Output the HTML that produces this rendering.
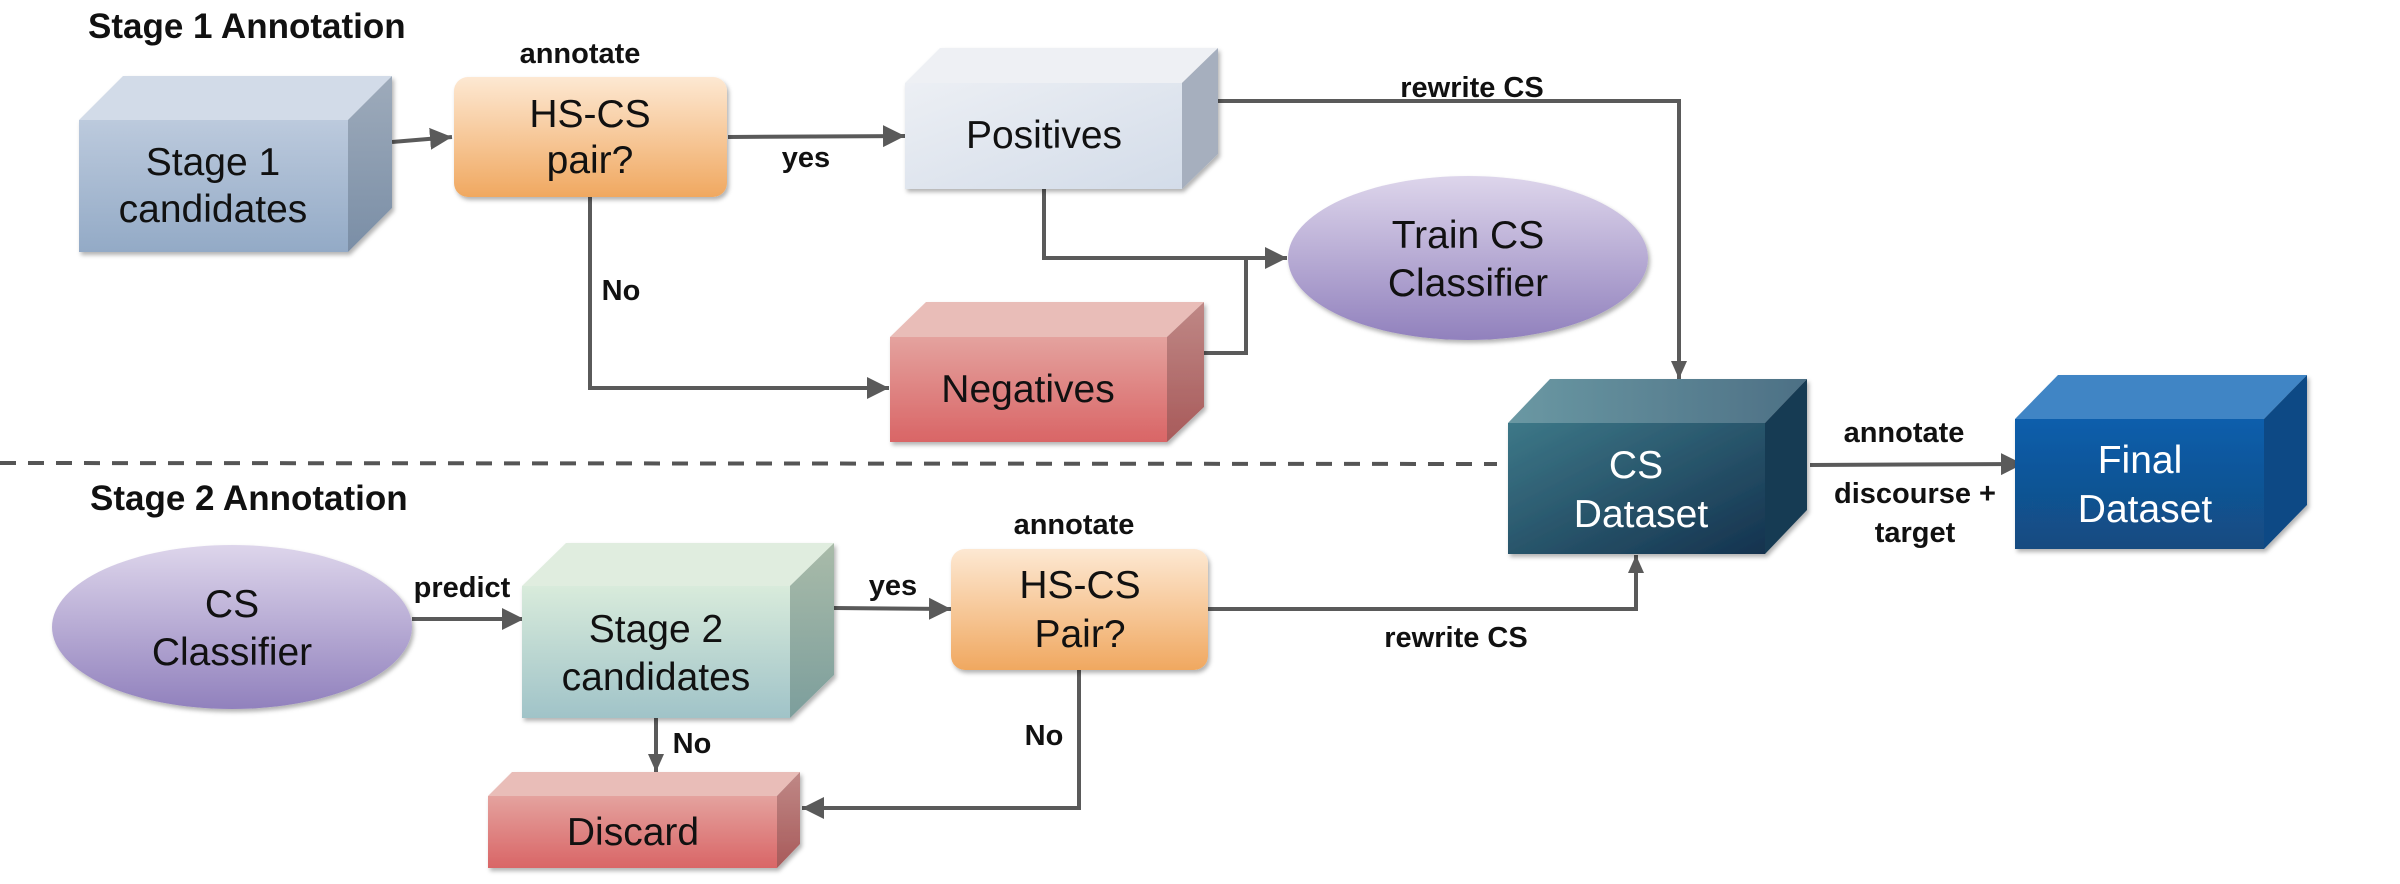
<!DOCTYPE html>
<html><head><meta charset="utf-8"><style>
html,body{margin:0;padding:0;background:#fff;}
svg{display:block;}
text{font-family:"Liberation Sans",Arial,sans-serif;}
.n{font-size:39px;text-anchor:middle;fill:#111;}
.w{font-size:39px;text-anchor:middle;fill:#fff;}
.l{font-size:29px;font-weight:bold;fill:#111;text-anchor:middle;}
.h{font-size:35px;font-weight:bold;fill:#111;}
.c{stroke:#5a5a5a;stroke-width:4;fill:none;}
</style></head><body>
<svg width="2400" height="884" viewBox="0 0 2400 884" xmlns="http://www.w3.org/2000/svg">
<defs>
<marker id="a" markerUnits="userSpaceOnUse" markerWidth="24" markerHeight="24" refX="22" refY="12" orient="auto"><path d="M0,1 L22,12 L0,23 Z" fill="#5a5a5a"/></marker>
<marker id="b" markerUnits="userSpaceOnUse" markerWidth="20" markerHeight="20" refX="18" refY="10" orient="auto"><path d="M0,2 L18,10 L0,18 Z" fill="#5a5a5a"/></marker>
<linearGradient id="s1f" x1="0" y1="0" x2="0" y2="1"><stop offset="0" stop-color="#bccadd"/><stop offset="1" stop-color="#93aac6"/></linearGradient>
<linearGradient id="s1s" x1="0" y1="0" x2="0" y2="1"><stop offset="0" stop-color="#9eabbb"/><stop offset="1" stop-color="#7a8ea6"/></linearGradient>
<linearGradient id="pf" x1="0" y1="0" x2="1" y2="1"><stop offset="0" stop-color="#eceff4"/><stop offset="1" stop-color="#d3dce9"/></linearGradient>
<linearGradient id="nf" x1="0" y1="0" x2="0" y2="1"><stop offset="0" stop-color="#e4a29e"/><stop offset="1" stop-color="#d96566"/></linearGradient>
<linearGradient id="ns" x1="0" y1="0" x2="0" y2="1"><stop offset="0" stop-color="#bf8886"/><stop offset="1" stop-color="#a85a5a"/></linearGradient>
<linearGradient id="of" x1="0" y1="0" x2="0" y2="1"><stop offset="0" stop-color="#fde8d2"/><stop offset="1" stop-color="#f0a860"/></linearGradient>
<linearGradient id="ef" x1="0" y1="0" x2="0" y2="1"><stop offset="0" stop-color="#ddd5eb"/><stop offset="1" stop-color="#9181bd"/></linearGradient>
<linearGradient id="gf" x1="0" y1="0" x2="0" y2="1"><stop offset="0" stop-color="#d8ebdb"/><stop offset="1" stop-color="#a0c3c8"/></linearGradient>
<linearGradient id="gs" x1="0" y1="0" x2="0" y2="1"><stop offset="0" stop-color="#a9bba9"/><stop offset="1" stop-color="#7c9e9c"/></linearGradient>
<linearGradient id="cf" x1="0" y1="0" x2="1" y2="1"><stop offset="0" stop-color="#3d7888"/><stop offset="1" stop-color="#14324e"/></linearGradient>
<linearGradient id="ct" x1="0" y1="0" x2="1" y2="0"><stop offset="0" stop-color="#6a98a3"/><stop offset="1" stop-color="#4d7085"/></linearGradient>
<linearGradient id="ff" x1="0" y1="0" x2="0" y2="1"><stop offset="0" stop-color="#0e5eac"/><stop offset="1" stop-color="#134b80"/></linearGradient>
<filter id="sh" x="-10%" y="-10%" width="130%" height="130%"><feDropShadow dx="2" dy="3" stdDeviation="2" flood-opacity="0.3"/></filter>
</defs>

<text class="h" x="88" y="38">Stage 1 Annotation</text>
<text class="h" x="90" y="510">Stage 2 Annotation</text>

<!-- dashed divider -->
<line x1="0" y1="463" x2="1497" y2="464" stroke="#555" stroke-width="4" stroke-dasharray="16,12"/>

<!-- connectors stage1 -->
<line class="c" x1="392" y1="142" x2="452" y2="137" marker-end="url(#a)"/>
<line class="c" x1="728" y1="137" x2="905" y2="136" marker-end="url(#a)"/>
<polyline class="c" points="590,197 590,388 889,388" marker-end="url(#a)"/>
<polyline class="c" points="1044,189 1044,258 1287,258" marker-end="url(#a)"/>
<polyline class="c" points="1204,353 1246,353 1246,258"/>
<polyline class="c" points="1215,101 1679,101 1679,379" marker-end="url(#b)"/>

<!-- connectors stage2 -->
<line class="c" x1="412" y1="619" x2="524" y2="619" marker-end="url(#a)"/>
<line class="c" x1="834" y1="608" x2="951" y2="609" marker-end="url(#a)"/>
<line class="c" x1="656" y1="718" x2="656" y2="772" marker-end="url(#b)"/>
<polyline class="c" points="1079,670 1079,808 802,808" marker-end="url(#a)"/>
<polyline class="c" points="1208,609 1636,609 1636,555" marker-end="url(#b)"/>
<line class="c" x1="1810" y1="465" x2="2023" y2="464" marker-end="url(#a)"/>

<!-- Stage 1 candidates -->
<g filter="url(#sh)">
<polygon points="79,120 123,76 392,76 348,120" fill="#d2dbe8"/>
<polygon points="348,120 392,76 392,208 348,252" fill="url(#s1s)"/>
<rect x="79" y="120" width="269" height="132" fill="url(#s1f)"/>
</g>
<text class="n" x="213" y="175">Stage 1</text>
<text class="n" x="213" y="222">candidates</text>

<!-- HS-CS pair -->
<rect x="454" y="77" width="273" height="120" rx="14" fill="url(#of)" filter="url(#sh)"/>
<text class="l" x="580" y="63">annotate</text>
<text class="n" x="590" y="127">HS-CS</text>
<text class="n" x="590" y="173">pair?</text>
<text class="l" x="806" y="167">yes</text>
<text class="l" x="621" y="300">No</text>

<!-- Positives -->
<g filter="url(#sh)">
<polygon points="905,83 940,48 1218,48 1182,83" fill="#eef0f4"/>
<polygon points="1182,83 1218,48 1218,154 1182,189" fill="#a6afbe"/>
<rect x="905" y="83" width="277" height="106" fill="url(#pf)"/>
</g>
<text class="n" x="1044" y="148">Positives</text>

<!-- Negatives -->
<g filter="url(#sh)">
<polygon points="890,337 926,302 1204,302 1167,337" fill="#e9bdb8"/>
<polygon points="1167,337 1204,302 1204,407 1167,442" fill="url(#ns)"/>
<rect x="890" y="337" width="277" height="105" fill="url(#nf)"/>
</g>
<text class="n" x="1028" y="402">Negatives</text>

<!-- Train CS Classifier -->
<ellipse cx="1468" cy="258" rx="180" ry="82" fill="url(#ef)" filter="url(#sh)"/>
<text class="n" x="1468" y="248">Train CS</text>
<text class="n" x="1468" y="296">Classifier</text>
<text class="l" x="1472" y="97">rewrite CS</text>

<!-- CS Dataset -->
<g filter="url(#sh)">
<polygon points="1508,423 1550,379 1807,379 1765,423" fill="url(#ct)"/>
<polygon points="1765,423 1807,379 1807,510 1765,554" fill="#193a52"/>
<rect x="1508" y="423" width="257" height="131" fill="url(#cf)"/>
</g>
<text class="w" x="1636" y="478">CS</text>
<text class="w" x="1641" y="527">Dataset</text>

<text class="l" x="1904" y="442">annotate</text>
<text class="l" x="1915" y="503">discourse +</text>
<text class="l" x="1915" y="542">target</text>

<!-- Final Dataset -->
<g filter="url(#sh)">
<polygon points="2015,419 2058,375 2307,375 2264,419" fill="#3f85c5"/>
<polygon points="2264,419 2307,375 2307,505 2264,549" fill="#0f4a85"/>
<rect x="2015" y="419" width="249" height="130" fill="url(#ff)"/>
</g>
<text class="w" x="2140" y="473">Final</text>
<text class="w" x="2145" y="522">Dataset</text>

<!-- CS Classifier -->
<ellipse cx="232" cy="627" rx="180" ry="82" fill="url(#ef)" filter="url(#sh)"/>
<text class="n" x="232" y="617">CS</text>
<text class="n" x="232" y="665">Classifier</text>
<text class="l" x="462" y="597">predict</text>

<!-- Stage 2 candidates -->
<g filter="url(#sh)">
<polygon points="522,586 566,543 834,543 790,586" fill="#e0eddf"/>
<polygon points="790,586 834,543 834,675 790,718" fill="url(#gs)"/>
<rect x="522" y="586" width="268" height="132" fill="url(#gf)"/>
</g>
<text class="n" x="656" y="642">Stage 2</text>
<text class="n" x="656" y="690">candidates</text>
<text class="l" x="893" y="595">yes</text>
<text class="l" x="692" y="753">No</text>

<!-- HS-CS Pair 2 -->
<rect x="951" y="549" width="257" height="121" rx="14" fill="url(#of)" filter="url(#sh)"/>
<text class="l" x="1074" y="534">annotate</text>
<text class="n" x="1080" y="598">HS-CS</text>
<text class="n" x="1080" y="647">Pair?</text>
<text class="l" x="1044" y="745">No</text>
<text class="l" x="1456" y="647">rewrite CS</text>

<!-- Discard -->
<g filter="url(#sh)">
<polygon points="488,796 512,772 800,772 777,796" fill="#e9bdb8"/>
<polygon points="777,796 800,772 800,844 777,868" fill="url(#ns)"/>
<rect x="488" y="796" width="289" height="72" fill="url(#nf)"/>
</g>
<text class="n" x="633" y="845">Discard</text>
</svg>
</body></html>
